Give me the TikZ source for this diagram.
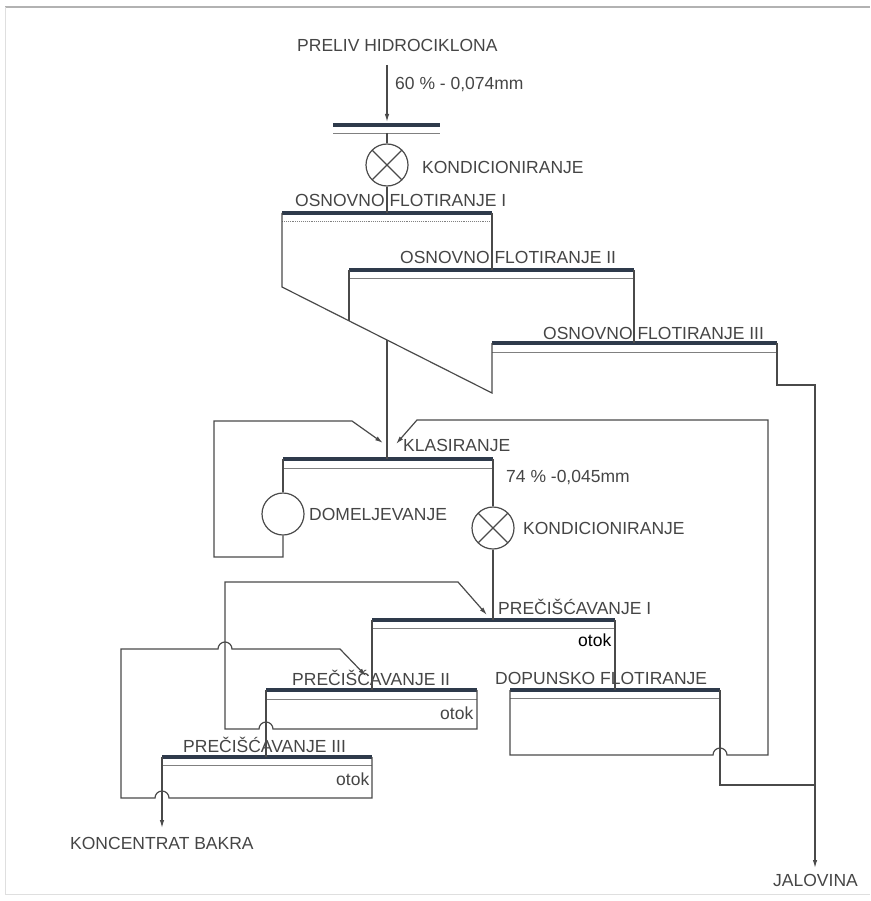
\documentclass[tikz,border=0pt]{standalone}
\usepackage{fontspec}
\setmainfont{Liberation Sans}
\usetikzlibrary{arrows.meta}
\definecolor{linegray}{HTML}{4A4A4A}
\definecolor{bargray}{HTML}{2E3A4B}
\definecolor{txtgray}{HTML}{454545}
\tikzset{
flow/.style={ % process streams
draw=linegray,
line width=1.2pt,
line join=miter},
feed/.style={flow,
-{Latex[length=8pt,width=4.5pt]}},
bar/.style={ % froth level of a cell
draw=bargray,
line width=4pt},
lip/.style={draw=linegray!70,
line width=0.9pt},
label/.style={text=txtgray,
font=\fontsize{17.5}{20}\selectfont,
anchor=west,
inner sep=0pt},
mill/.style={circle,
draw=linegray,
line width=1.2pt,
minimum size=42pt,
inner sep=0pt},
cond/.style={mill,
path picture={
\draw[linegray, line width=1.2pt]
(path picture bounding box.north west) -- (path picture bounding box.south east)
(path picture bounding box.north east) -- (path picture bounding box.south west);}}}

\begin{document}
\begin{tikzpicture}[x=1pt, y=-1pt]
\useasboundingbox (0,0) rectangle (870,901);
% frame
\draw[gray!60, line width=1.6pt] (5,7) -- (870,7);
\draw[gray!25, line width=0.6pt] (5,7) -- (5,894) -- (870,894);

% labels
\node[label] (preliv) at (297,45) {PRELIV HIDROCIKLONA};
\node[label] (fine1) at (395,85) {60 \% - 0,074mm};
\node[label] (kond1-t) at (422,167) {KONDICIONIRANJE};
\node[label] (of1-t) at (295,200) {OSNOVNO FLOTIRANJE I};
\node[label] (of2-t) at (400,257) {OSNOVNO FLOTIRANJE II};
\node[label] (of3-t) at (543,333) {OSNOVNO FLOTIRANJE III};
\node[label] (kl-t) at (403,445) {KLASIRANJE};
\node[label] (fine2) at (506,478) {74 \% -0,045mm};
\node[label] (mlin-t) at (309,514) {DOMELJEVANJE};
\node[label] (kond2-t) at (523,528) {KONDICIONIRANJE};
\node[label] (pc1-t) at (498,607) {PREČIŠĆAVANJE I};
\node[label, text=black] (otok1) at (578,640) {otok};
\node[label] (pc2-t) at (292,678) {PREČIŠĆAVANJE II};
\node[label] (dop-t) at (495,678) {DOPUNSKO FLOTIRANJE};
\node[label] (otok2) at (440,713) {otok};
\node[label] (pc3-t) at (183,745) {PREČIŠĆAVANJE III};
\node[label] (otok3) at (336,779) {otok};
\node[label] (konc) at (70,843) {KONCENTRAT BAKRA};
\node[label] (jal) at (773,880) {JALOVINA};

% machines
\node[cond] (kond1) at (387,165) {};
\node[mill] (mlin) at (283,514) {};
\node[cond] (kond2) at (493,528) {};

% cell bars
\coordinate (tk-w) at (333,125); \coordinate (tk-e) at (440,125);
\coordinate (of1-w) at (282,213); \coordinate (of1-e) at (492,213);
\coordinate (of2-w) at (349,270); \coordinate (of2-e) at (634,270);
\coordinate (of3-w) at (492,343); \coordinate (of3-e) at (777,343);
\coordinate (kl-w) at (283,459); \coordinate (kl-e) at (493,459);
\coordinate (pc1-w) at (372,620); \coordinate (pc1-e) at (615,620);
\coordinate (pc2-w) at (266,690); \coordinate (pc2-e) at (477,690);
\coordinate (pc3-w) at (162,757); \coordinate (pc3-e) at (372,757);
\coordinate (dop-w) at (510,690); \coordinate (dop-e) at (720,690);
\draw[bar] (tk-w) -- (tk-e);
\draw[lip] ([yshift=-8pt]tk-w) -- ([yshift=-8pt]tk-e);
\draw[bar] (of1-w) -- (of1-e);
\draw[lip, densely dotted] ([yshift=-8pt]of1-w) -- ([yshift=-8pt]of1-e);
\draw[bar] (of2-w) -- (of2-e);
\draw[lip] ([yshift=-8pt]of2-w) -- ([yshift=-8pt]of2-e);
\draw[bar] (of3-w) -- (of3-e);
\draw[lip] ([yshift=-9pt]of3-w) -- ([yshift=-9pt]of3-e);
\draw[bar] (kl-w) -- (kl-e);
\draw[lip] ([yshift=-9pt]kl-w) -- ([yshift=-9pt]kl-e);
\draw[bar] (pc1-w) -- (pc1-e);
\draw[lip] ([yshift=-8pt]pc1-w) -- ([yshift=-8pt]pc1-e);
\draw[bar] (pc2-w) -- (pc2-e);
\draw[lip] ([yshift=-9pt]pc2-w) -- ([yshift=-9pt]pc2-e);
\draw[bar] (pc3-w) -- (pc3-e);
\draw[lip] ([yshift=-8pt]pc3-w) -- ([yshift=-8pt]pc3-e);
\draw[bar] (dop-w) -- (dop-e);
\draw[lip] ([yshift=-8pt]dop-w) -- ([yshift=-8pt]dop-e);

% feed and rougher line
\coordinate (feed) at (387,65);
\draw[feed] (feed) -- (387,122);
\draw[flow] (387,133) -- (kond1.north);
\draw[flow] (kond1.south) -- (387,213);
\draw[flow] (of1-w) -- (282,287) coordinate (fr-a) -- (492,393) coordinate (fr-b) -- (of3-w);
\draw[flow] (of1-e) -- (of1-e |- of2-w);
\draw[flow] (of2-w) -- (349,321);
\draw[flow] (of2-e) -- (of2-e |- of3-w);
\draw[feed] (of3-e) -- (777,385) -- (815,385) -- (815,868);
\draw[flow] (387,340) -- (387,459);

% classification and regrinding
\draw[flow] (kl-w) -- (mlin.north);
\draw[feed] (mlin.south) -- (283,557) -- (214,557) -- (214,421) -- (352,421) -- (383,443);
\draw[flow] (kl-e) -- (kond2.north);
\draw[flow] (kond2.south) -- (493,620);

% cleaning
\draw[flow] (pc1-w) -- (pc1-w |- pc2-w);
\draw[flow] (pc1-e) -- (pc1-e |- dop-w);
\draw[feed] (pc2-e) -- (477,729) -- (273,729) arc[start angle=0, end angle=180, radius=7pt]
  -- (225,729) -- (225,582) -- (458,582) -- (487,615);
\draw[flow] (pc2-w) -- (pc2-w |- pc3-w);
\draw[feed] (pc3-e) -- (372,798) -- (169,798) arc[start angle=0, end angle=180, radius=7pt]
  -- (121,798) -- (121,649) -- (218,649) arc[start angle=180, end angle=0, radius=7pt]
  -- (340,649) -- (366,676);
\draw[feed] (pc3-w) -- (162,828);

% scavenger
\draw[feed] (dop-w) -- (510,755) -- (713,755) arc[start angle=180, end angle=0, radius=7pt]
  -- (768,755) -- (768,420) -- (417,420) -- (396,444);
\draw[flow] (dop-e) -- (720,785) -- (815,785);
\end{tikzpicture}
\end{document}
